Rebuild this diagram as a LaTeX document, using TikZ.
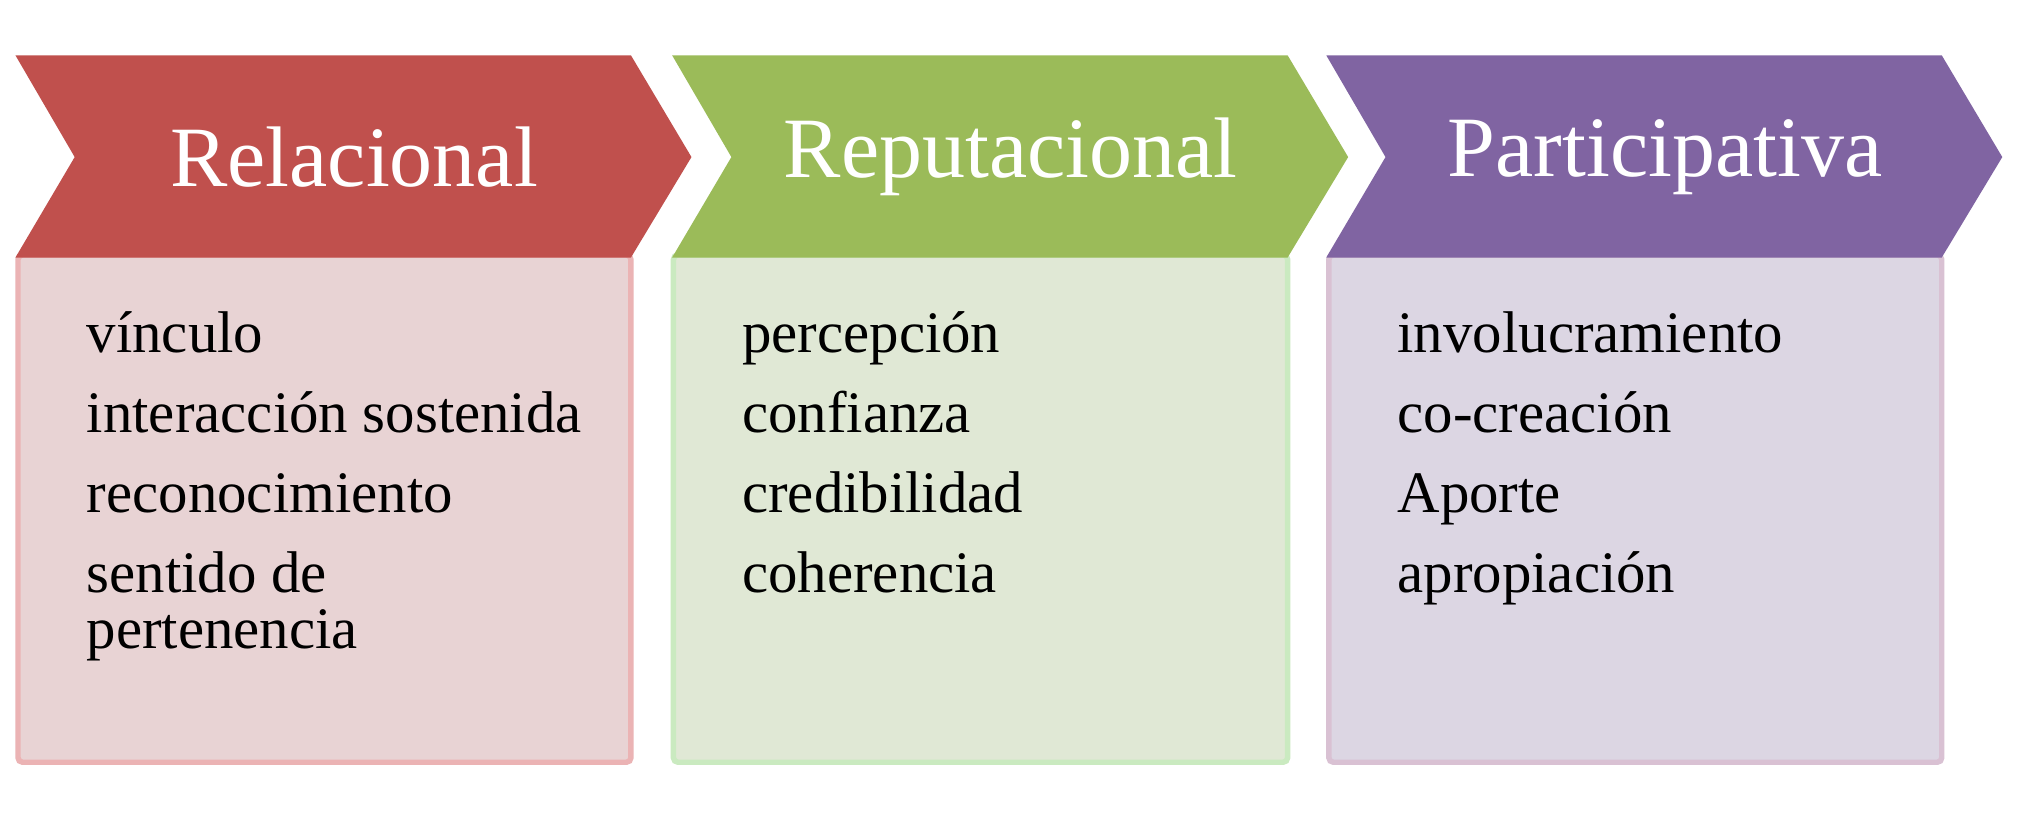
\documentclass[tikz,border=0pt]{standalone}
\usepackage{fontspec}
\setmainfont{Liberation Serif}
\usepackage{tikz}
\definecolor{redhead}{HTML}{C0504D}
\definecolor{greenhead}{HTML}{9BBB59}
\definecolor{purplehead}{HTML}{8064A2}
\definecolor{redbody}{HTML}{E8D3D4}
\definecolor{greenbody}{HTML}{E0E8D5}
\definecolor{purplebody}{HTML}{DCD6E3}
\tikzstyle{title} = [text=white, font=\fontsize{19}{22}\selectfont, anchor=center]
\tikzstyle{item} = [text=black, font=\fontsize{13}{15.5}\selectfont, anchor=base west, align=left]
\tikzstyle{body} = [line width=1.2pt, rounded corners=1pt]
\newcommand{\chevron}[2]{\fill[#2] (#1+0.12,5.93) -- (#1+4.90,5.93) -- (#1+5.37,5.14) -- (#1+4.90,4.36) -- (#1+0.12,4.36) -- (#1+0.58,5.14) -- cycle;}

\begin{document}
\begin{tikzpicture}[x=1cm,y=1cm]
		\useasboundingbox[fill=white] (0,0) rectangle (15.68,6.36);
		\draw [body, fill=redbody, draw=redbody!85!red] (0.14,0.44) rectangle (4.90,4.38);
		\draw [body, fill=greenbody, draw=greenbody!90!green] (5.23,0.44) rectangle (10.00,4.38);
		\draw [body, fill=purplebody, draw=purplebody!90!purple] (10.32,0.44) rectangle (15.08,4.38);
		\chevron{0}{redhead}
		\chevron{5.10}{greenhead}
		\chevron{10.18}{purplehead}
		\node (relacional) [title] at (2.75,5.14) {Relacional};
		\node (reputacional) [title] at (7.85,5.14) {Reputacional};
		\node (participativa) [title] at (12.93,5.14) {Participativa};
		\node (rel1) [item] at (0.55,3.62) {vínculo};
		\node (rel2) [item] at (0.55,3.00) {interacción sostenida};
		\node (rel3) [item] at (0.55,2.38) {reconocimiento};
		\node (rel4) [item] at (0.55,1.76) {sentido de};
		\node (rel5) [item] at (0.55,1.32) {pertenencia};
		\node (rep1) [item] at (5.64,3.62) {percepción};
		\node (rep2) [item] at (5.64,3.00) {confianza};
		\node (rep3) [item] at (5.64,2.38) {credibilidad};
		\node (rep4) [item] at (5.64,1.76) {coherencia};
		\node (par1) [item] at (10.73,3.62) {involucramiento};
		\node (par2) [item] at (10.73,3.00) {co-creación};
		\node (par3) [item] at (10.73,2.38) {Aporte};
		\node (par4) [item] at (10.73,1.76) {apropiación};
		\end{tikzpicture}
\end{document}
